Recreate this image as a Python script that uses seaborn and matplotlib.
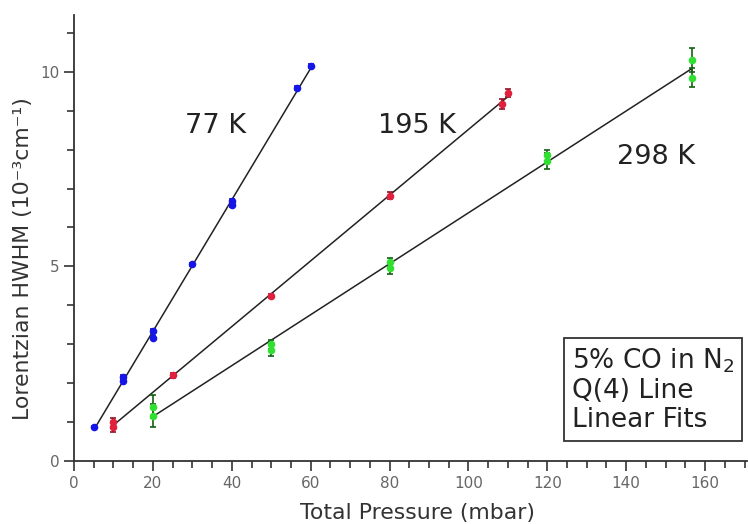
import numpy as np
import pandas as pd
import matplotlib
matplotlib.use("Agg")
import matplotlib.pyplot as plt
import seaborn as sns

# ---- data ----
p77 = [5, 12.5, 12.5, 20, 20, 30, 40, 40, 56.5, 60]
w77 = [0.88, 2.05, 2.17, 3.17, 3.34, 5.05, 6.58, 6.68, 9.57, 10.14]
e77 = [0.03, 0.03, 0.03, 0.04, 0.04, 0.04, 0.05, 0.05, 0.05, 0.05]

p195 = [10, 10, 25, 50, 80, 108.5, 110]
w195 = [0.88, 1.0, 2.2, 4.24, 6.82, 9.17, 9.45]
e195 = [0.12, 0.12, 0.06, 0.06, 0.1, 0.12, 0.1]

p298 = [20, 20, 50, 50, 80, 80, 120, 120, 156.7, 156.7]
w298 = [1.17, 1.4, 2.85, 3.0, 4.95, 5.1, 7.7, 7.85, 9.85, 10.3]
e298 = [0.3, 0.3, 0.15, 0.12, 0.15, 0.12, 0.2, 0.15, 0.25, 0.3]

labels = ["77 K", "195 K", "298 K"]
colors = ["#1515e8", "#e0203c", "#30e030"]
ecolors = ["#1515a0", "#901020", "#106010"]

sns.set_style("ticks")
plt.rcParams['font.family'] = ['DejaVu Sans']

fig = plt.figure(figsize=(7.48, 5.24), dpi=100)
ax = fig.add_axes([0.099, 0.120, 0.899, 0.851])

series = [(p77, w77, e77), (p195, w195, e195), (p298, w298, e298)]
for (p, w, e), lab, c, ec in zip(series, labels, colors, ecolors):
    df = pd.DataFrame({"p": p, "w": w, "e": e})
    sns.regplot(data=df, x="p", y="w", scatter=False, ci=None, truncate=True,
                line_kws=dict(color="#222222", lw=1.1, zorder=2), ax=ax)
    ax.errorbar(df["p"], df["w"], yerr=df["e"], fmt="none", ecolor=ec,
                elinewidth=1.2, capsize=2.5, capthick=1.2, zorder=3)
    sns.scatterplot(data=df, x="p", y="w", color=c, s=30, edgecolor=c,
                    linewidth=0, zorder=4, ax=ax)

ax.set_xlim(0, 170.5)
ax.set_ylim(0, 11.45)
ax.set_xticks(np.arange(0, 161, 20))
ax.set_xticks(np.arange(0, 171, 5), minor=True)
ax.set_yticks([0, 5, 10])
ax.set_yticks(np.arange(0, 12, 1), minor=True)
ax.tick_params(axis="both", which="major", length=7, width=1.2, direction="out",
               labelsize=11, labelcolor="#666666", color="#333333")
ax.tick_params(axis="both", which="minor", length=5, width=1.2, direction="out",
               color="#333333")
for s in ["left", "bottom"]:
    ax.spines[s].set_linewidth(1.3)
    ax.spines[s].set_color("#333333")
sns.despine(ax=ax)

ax.set_xlabel("Total Pressure (mbar)", fontsize=15.8, color="#333333")
ax.xaxis.set_label_coords(0.51, -0.093)
ax.xaxis.label.set_va("top")
ax.set_ylabel("Lorentzian HWHM (10\u207b\u00b3cm\u207b\u00b9)", fontsize=15.8,
              color="#333333")
ax.yaxis.set_label_coords(-0.061, 0.455)

ax.text(28.1, 8.43, "77 K", fontsize=19.5, color="#222222", va="baseline")
ax.text(77.1, 8.43, "195 K", fontsize=19.5, color="#222222", va="baseline")
ax.text(137.7, 7.64, "298 K", fontsize=19.5, color="#222222", va="baseline")

ax.text(126.3, 2.95, "5% CO in N$_2$\nQ(4) Line\nLinear Fits", fontsize=19,
        color="#222222", linespacing=1.15, va="top", ha="left",
        bbox=dict(boxstyle="square,pad=0.3", facecolor="white",
                  edgecolor="#333333", lw=1.3))

fig.savefig("out.png", dpi=100)
